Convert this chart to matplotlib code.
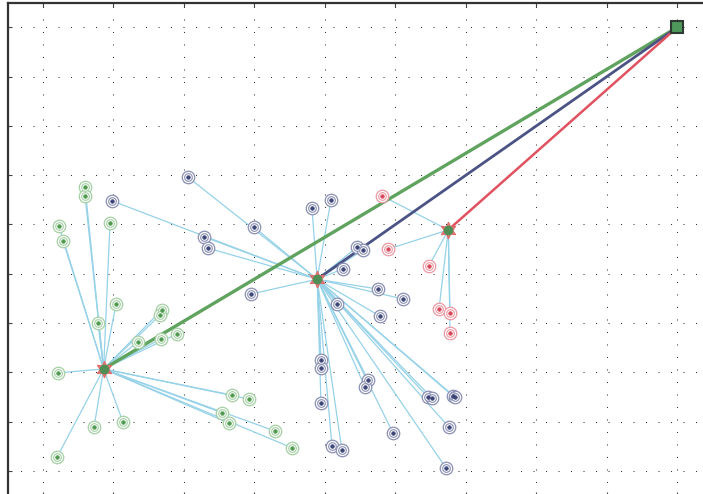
import matplotlib
matplotlib.use("Agg")
import matplotlib.pyplot as plt

# ---- data ----
sink = (90.0, 90.0)
heads_x = [8.6, 38.9, 57.5]
heads_y = [20.7, 38.9, 48.9]

green_x = [5.96, 5.96, 2.27, 2.84, 9.51, 10.36, 16.88, 16.6, 7.8, 13.48, 16.74, 19.01,
           2.13, 7.24, 11.35, 1.99, 26.82, 29.23, 25.4, 26.39, 32.92, 35.33]
green_y = [57.6, 55.8, 49.7, 46.7, 50.3, 33.9, 32.7, 31.6, 30.0, 26.2, 26.8, 27.8,
           19.9, 8.9, 9.9, 2.8, 15.4, 14.6, 11.8, 9.7, 8.1, 4.7]

navy_x = [20.57, 9.79, 22.84, 23.41, 38.17, 40.86, 29.94, 44.55, 45.4, 42.57, 29.51,
          47.53, 51.08, 41.71, 47.81, 39.44, 39.44, 46.11, 45.69, 39.44, 54.63, 55.19,
          58.17, 58.46, 57.6, 49.66, 41.0, 42.4, 57.18]
navy_y = [59.6, 54.8, 47.5, 45.2, 53.3, 55.0, 49.5, 45.4, 44.8, 41.0, 35.9,
          36.9, 34.9, 33.9, 31.4, 22.5, 20.9, 18.5, 17.0, 13.8, 15.0, 14.8,
          15.2, 15.0, 8.9, 7.7, 5.1, 4.3, 0.6]

red_x = [48.1, 48.95, 54.77, 56.19, 57.75, 57.75]
red_y = [55.8, 45.0, 41.6, 32.9, 32.0, 28.0]

clusters = [
    (green_x, green_y, "#a4d0a4", "#4f9a4f"),
    (navy_x, navy_y, "#8a90b4", "#3c4577"),
    (red_x, red_y, "#eb9aa4", "#d8485a"),
]
ch_line_colors = ["#5fa35f", "#4b5385", "#e0525f"]
ch_line_widths = [2.4, 2.0, 1.8]

W, H = 703, 494
fig = plt.figure(figsize=(W / 100, H / 100), dpi=100)

def px_x(v):
    return 43 + v * 7.048
def px_y(v):
    return 471 - v * 4.93

xl, xr = -4.92, 95
yb, yt = -5, 94.9
left = px_x(xl) / W
right = px_x(xr) / W
top = 1 - px_y(yt) / H
bottom = 1 - px_y(yb) / H
ax = fig.add_axes([left, bottom, right - left, top - bottom])
ax.set_xlim(xl, xr)
ax.set_ylim(yb, yt)

ax.set_xticks(range(0, 100, 10))
ax.set_yticks(range(0, 100, 10))
ax.tick_params(direction="in", length=3, width=0.8, color="#444",
               labelbottom=False, labelleft=False, top=True, right=True)
ax.grid(True, color="#333333", linestyle=(0, (1, 11)), linewidth=0.75)
for s in ax.spines.values():
    s.set_linewidth(1.6)
    s.set_color("#333333")

# member -> cluster-head links
for i, (xs, ys, ring, dot) in enumerate(clusters):
    hx, hy = heads_x[i], heads_y[i]
    for x, y in zip(xs, ys):
        ax.plot([x, hx], [y, hy], color="#96d2e8", lw=0.9, zorder=2)

# member nodes
for xs, ys, ring, dot in clusters:
    ax.plot(xs, ys, linestyle="none", marker="o", ms=9, mfc="white", mec=ring,
            mew=0.9, zorder=4)
    ax.plot(xs, ys, linestyle="none", marker="o", ms=5.5, mfc="white", mec=ring,
            mew=0.8, zorder=4)
    ax.plot(xs, ys, linestyle="none", marker="o", ms=2.6, mfc=dot, mec=dot,
            mew=0.5, zorder=5)

# cluster head -> sink links
for i in range(3):
    ax.plot([heads_x[i], sink[0]], [heads_y[i], sink[1]], color=ch_line_colors[i],
            lw=ch_line_widths[i], zorder=3, solid_capstyle="round")

# cluster heads
ax.plot(heads_x, heads_y, linestyle="none", marker=(6, 1, 0), ms=12,
        mfc="#e57a7a", mec="#e06a6a", mew=0.8, zorder=6)
ax.plot(heads_x, heads_y, linestyle="none", marker="o", ms=6,
        mfc="#4f8f55", mec="#4f8f55", zorder=7)

# sink
ax.plot([sink[0]], [sink[1]], linestyle="none", marker="s", ms=9,
        mfc="#4e9a5a", mec="#2f3a33", mew=1.5, zorder=7)

fig.savefig("out.png", dpi=100)
